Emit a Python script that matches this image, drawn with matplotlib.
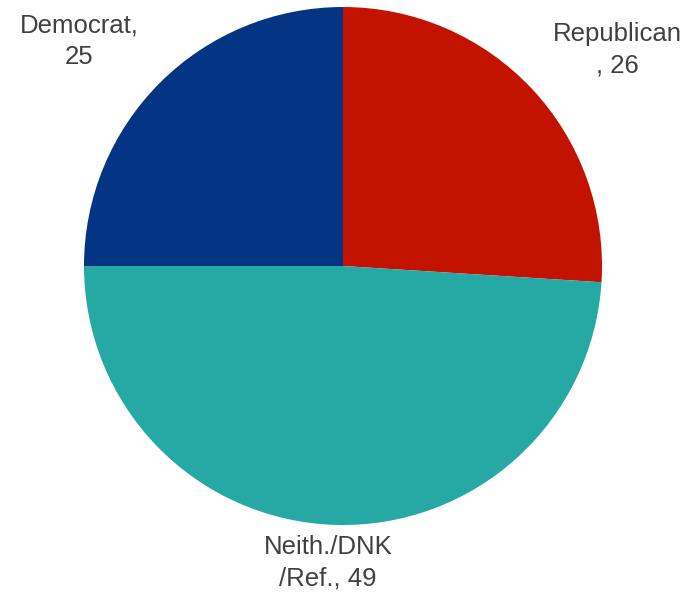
import matplotlib
matplotlib.use('Agg')
from matplotlib import pyplot as plt

labels = ['Republican\n, 26', 'Neith./DNK\n/Ref., 49', 'Democrat,\n25']
values = [26, 49, 25]
colors = ['#C41200', '#26A9A5', '#043584']

W, H = 694, 597
fig = plt.figure(figsize=(W / 100, H / 100), dpi=100)
ax = fig.add_axes([0, 0, 1, 1])

# pie placed in pixel space (y flipped so pixel y -> H - y)
ax.pie(values, colors=colors, startangle=90, counterclock=False,
       center=(343, H - 266), radius=259,
       wedgeprops=dict(linewidth=0), frame=True)
ax.set_xlim(0, W)
ax.set_ylim(0, H)
ax.set_aspect('equal')
ax.axis('off')

label_pos = [(617, 50), (328, 563), (79, 41)]
for lab, (x, y) in zip(labels, label_pos):
    ax.text(x, H - y, lab, ha='center', va='center', fontsize=18.5,
            family='Liberation Sans', color='#404040', linespacing=1.38)

plt.savefig('out.png', dpi=100)
